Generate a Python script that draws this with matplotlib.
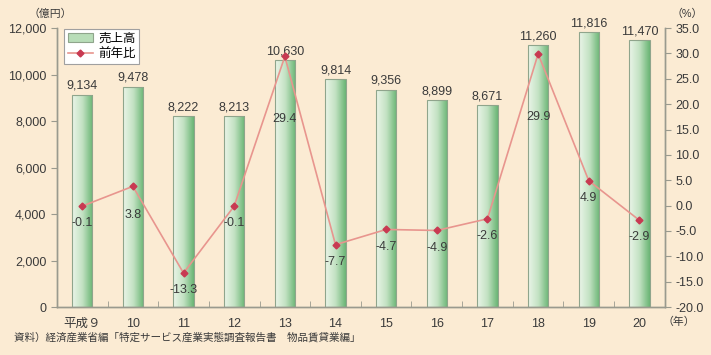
import numpy as np
import matplotlib
matplotlib.use("Agg")
import matplotlib.pyplot as plt
from matplotlib.colors import LinearSegmentedColormap

plt.rcParams['font.family'] = ['Liberation Sans', 'Noto Sans CJK JP', 'DejaVu Sans']

# データ
years = ["平成９", "10", "11", "12", "13", "14", "15", "16", "17", "18", "19", "20"]
sales = [9134, 9478, 8222, 8213, 10630, 9814, 9356, 8899, 8671, 11260, 11816, 11470]
growth = [-0.1, 3.8, -13.3, -0.1, 29.4, -7.7, -4.7, -4.9, -2.6, 29.9, 4.9, -2.9]

# 前年比ラベルの下方向オフセット (pt)
label_offsets = [-8, -16, -8, -8, -41, -8, -8, -8, -8, -41, -8, -8]

BG = "#FBEBD3"
AXC = "#9A9A8E"
TXT = "#3A3A3A"
FS = 9

fig = plt.figure(figsize=(7.11, 3.55), dpi=100, facecolor=BG)
ax = fig.add_axes([0.080, 0.135, 0.855, 0.786], facecolor=BG)
ax2 = ax.twinx()

x = np.arange(len(years))
bars = ax.bar(x, sales, width=0.4, color="none", edgecolor="#8FA58C",
              linewidth=0.8, zorder=2, label="売上高")

cmap = LinearSegmentedColormap.from_list("g", ["#EAF5E8", "#C3E2C3", "#6AB574"])
grad = np.linspace(0, 1, 64).reshape(1, -1)
for b in bars:
    x0, w, h = b.get_x(), b.get_width(), b.get_height()
    im = ax.imshow(grad, cmap=cmap, aspect="auto", extent=[x0, x0 + w, 0, h],
                   zorder=1.5, interpolation="bicubic")
    im.set_clip_path(b)
    ax.annotate(f"{int(h):,}", (x0 + w / 2, h), xytext=(0, 2),
                textcoords="offset points", ha="center", va="bottom",
                fontsize=FS, color=TXT)

ax.set_xlim(-0.5, len(years) - 0.5)
ax.set_ylim(0, 12000)
ax.set_yticks(range(0, 12001, 2000))
ax.set_yticklabels([f"{v:,}" for v in range(0, 12001, 2000)])
ax.set_xticks(x)
ax.set_xticklabels(years)
ax.set_xticks(np.arange(0.5, len(years) - 1, 1), minor=True)
ax.tick_params(axis="x", which="major", length=0, pad=8, labelsize=FS, colors=TXT)
ax.tick_params(axis="x", which="minor", direction="in", length=4, color=AXC)
ax.tick_params(axis="y", length=4, color=AXC, labelsize=FS, labelcolor=TXT)

ln, = ax2.plot(x, growth, color="#E8958E", linewidth=1.2, marker="D",
               markersize=3.5, markerfacecolor="#C83A52", markeredgecolor="#C83A52",
               zorder=3, label="前年比")
for xi, g, off in zip(x, growth, label_offsets):
    ax2.annotate(f"{g:.1f}", (xi, g), xytext=(0, off), textcoords="offset points",
                 ha="center", va="top", fontsize=FS, color=TXT)
ax2.set_ylim(-20, 35)
ax2.set_yticks(np.arange(-20, 35.1, 5))
ax2.set_yticklabels([f"{v:.1f}" for v in np.arange(-20, 35.1, 5)])
ax2.tick_params(axis="y", length=4, color=AXC, labelsize=FS, labelcolor=TXT)

for a in (ax, ax2):
    a.spines["top"].set_visible(False)
    for s in ("left", "right", "bottom"):
        a.spines[s].set_color(AXC)
        a.spines[s].set_linewidth(1.0)

leg = ax.legend(handles=[bars, ln], loc="upper left", bbox_to_anchor=(0.008, 1.005),
                fontsize=FS, frameon=True, fancybox=False, framealpha=1,
                edgecolor="#A0A0A0", handlelength=2.0, borderpad=0.3,
                labelspacing=0.25, handletextpad=0.4, borderaxespad=0.2)
leg.get_frame().set_linewidth(0.8)
leg.legend_handles[0].set_facecolor("#B8DDB8")
leg.set_zorder(5)

fig.text(0.040, 0.962, "（億円）", fontsize=7.8, color=TXT, ha="left", va="center")
fig.text(0.944, 0.962, "（%）", fontsize=7.8, color=TXT, ha="left", va="center")
fig.text(0.932, 0.093, "（年）", fontsize=7.8, color=TXT, ha="left", va="center")
fig.text(0.020, 0.05, "資料）経済産業省編「特定サービス産業実態調査報告書　物品賃貸業編」",
         fontsize=7.6, color=TXT, ha="left", va="center")

fig.savefig("out.png", dpi=100, facecolor=BG)
